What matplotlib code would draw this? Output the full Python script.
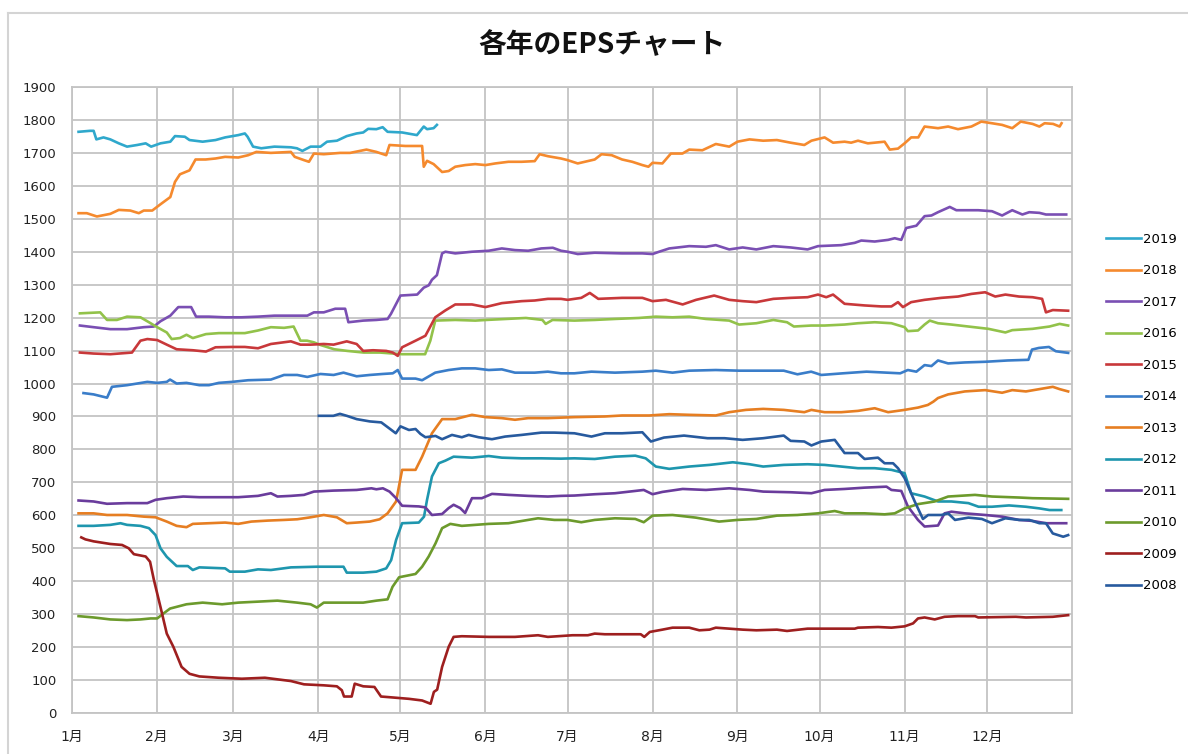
import matplotlib
matplotlib.use('Agg')
import matplotlib.pyplot as plt
from matplotlib.lines import Line2D

plt.rcParams['font.family'] = ['DejaVu Sans', 'Noto Sans CJK JP']

title = '各年のEPSチャート'
month_labels = ['1月', '2月', '3月', '4月', '5月', '6月', '7月', '8月', '9月', '10月', '11月', '12月']
month_start_day = [0, 31, 59, 90, 120, 151, 181, 212, 243, 273, 304, 334]
year_days = 365
y_ticks = list(range(0, 2000, 100))

years = ['2019', '2018', '2017', '2016', '2015', '2014', '2013', '2012', '2011', '2010', '2009', '2008']
colors = ['#2FA8CC', '#F58A2E', '#7A4FB3', '#92C24A', '#C8383A', '#3A7DC9',
          '#E67E22', '#1E96AE', '#6A3C9C', '#6C9A2C', '#9E1F1F', '#275A9E']

# (day of year, EPS)
eps_2019 = [(2.5, 1764), (6.7, 1767), (8, 1767), (9, 1741), (11.6, 1747), (14.1, 1741), (17.2, 1729),
            (20.2, 1719), (23.9, 1724), (27, 1729), (29, 1719), (32.4, 1729), (36, 1734), (37.7, 1751),
            (41.3, 1749), (43, 1739), (47.8, 1734), (52.5, 1739), (56, 1747), (60.8, 1754), (63.2, 1759),
            (64.2, 1749), (66.2, 1719), (69.2, 1714), (74, 1719), (80, 1717), (82.2, 1714), (84.2, 1706),
            (87.2, 1719), (90.8, 1719), (93.2, 1734), (96.8, 1737), (100.4, 1751), (104, 1759),
            (106.4, 1762), (108.2, 1773), (111.2, 1772), (113.5, 1778), (115.3, 1764), (120.6, 1762),
            (126, 1754), (128.5, 1780), (129.7, 1772), (132.1, 1775), (133.3, 1785)]

eps_2018 = [(2.5, 1517), (5.5, 1517), (9.2, 1507), (14.1, 1515), (17.2, 1527), (21.4, 1525), (24.5, 1517),
            (26.3, 1525), (29.4, 1525), (32.4, 1544), (36, 1566), (37.7, 1612), (39.5, 1635), (43, 1647),
            (45.2, 1680), (48.9, 1680), (52.5, 1683), (56, 1688), (60.8, 1686), (64.4, 1693), (67.4, 1703),
            (72.7, 1700), (80, 1703), (81.4, 1688), (84.8, 1678), (86.6, 1673), (88.4, 1698), (92, 1696),
            (98, 1700), (101.6, 1700), (107.6, 1710), (111.2, 1703), (114.8, 1693), (116, 1724),
            (121.8, 1721), (127.9, 1721), (128.5, 1658), (129.7, 1676), (132.1, 1666), (135.2, 1642),
            (137.6, 1645), (140, 1658), (143.6, 1663), (147.3, 1666), (151, 1663), (154.6, 1668),
            (159.4, 1673), (164.2, 1673), (169, 1675), (170.8, 1696), (173.8, 1690), (178.6, 1683),
            (181, 1678), (184.7, 1668), (190.9, 1680), (193.4, 1696), (197.1, 1693), (200.9, 1680),
            (204.6, 1673), (208.3, 1663), (210.5, 1658), (212, 1670), (215.6, 1668), (218.7, 1698),
            (222.9, 1698), (225.4, 1710), (230.2, 1708), (235.1, 1727), (240, 1719), (243, 1734),
            (247.4, 1741), (252.4, 1737), (257.4, 1739), (262.4, 1731), (267.4, 1724), (270, 1737),
            (274.8, 1747), (277.9, 1731), (282.1, 1734), (284.5, 1731), (287, 1737), (290.6, 1729),
            (296.7, 1734), (298.6, 1710), (301.6, 1713), (304, 1729), (306.4, 1747), (309, 1747),
            (311.3, 1780), (316.2, 1775), (319.9, 1780), (323.5, 1772), (328.4, 1780), (332, 1795),
            (335.9, 1790), (339.6, 1785), (343.3, 1775), (346.4, 1795), (350.7, 1788), (353.2, 1780),
            (355.1, 1790), (358.2, 1788), (360.6, 1780), (361.3, 1790)]

eps_2017 = [(3, 1176), (8, 1171), (14.1, 1165), (20.2, 1165), (26.3, 1171), (30, 1173), (32.4, 1189),
            (36, 1206), (38.9, 1232), (43.6, 1232), (45.4, 1203), (50.1, 1203), (56, 1201), (62, 1201),
            (68, 1203), (74, 1206), (80, 1206), (86, 1206), (88.4, 1216), (92, 1216), (96.2, 1227),
            (99.8, 1227), (101, 1186), (106.4, 1191), (111.2, 1193), (115.3, 1196), (116.5, 1211),
            (120, 1267), (126.1, 1270), (128.5, 1291), (130.3, 1298), (131.5, 1315), (133.3, 1329),
            (135.2, 1395), (136.4, 1400), (140, 1395), (146.1, 1400), (152.2, 1403), (157, 1410),
            (161.8, 1405), (166.6, 1403), (171.4, 1410), (175.6, 1412), (178.6, 1403), (181, 1400),
            (184.7, 1393), (190.9, 1397), (200.9, 1395), (208.3, 1395), (212, 1393), (214.4, 1400),
            (218.1, 1410), (225.4, 1417), (231.5, 1415), (235.1, 1420), (240, 1407), (244.9, 1413),
            (249.9, 1407), (256.1, 1417), (262.4, 1413), (268.6, 1407), (272.4, 1417), (280.9, 1420),
            (285.8, 1427), (288.2, 1434), (293.1, 1431), (298, 1436), (300.4, 1441), (302.8, 1436),
            (304.6, 1472), (308.3, 1479), (311.3, 1508), (313.8, 1510), (316.2, 1520), (320.5, 1536),
            (322.9, 1526), (330.9, 1526), (335.9, 1523), (339.6, 1510), (343.3, 1526), (347, 1513),
            (349.5, 1520), (353.2, 1518), (355.6, 1513), (363, 1513)]

eps_2016 = [(3, 1213), (10.4, 1216), (12.9, 1193), (16.5, 1193), (20.2, 1203), (25.1, 1201), (28.2, 1186),
            (31.2, 1171), (34.7, 1155), (36.5, 1135), (39.5, 1138), (41.9, 1148), (44.2, 1138), (49, 1150),
            (53.7, 1153), (58.5, 1153), (63.2, 1153), (68, 1161), (72.7, 1171), (77.5, 1169), (81, 1173),
            (83.5, 1130), (85.9, 1130), (88.4, 1125), (90.8, 1117), (95.8, 1104), (100.6, 1099),
            (106.6, 1094), (112.5, 1094), (120.6, 1089), (129, 1089), (130.9, 1130), (132.7, 1191),
            (140, 1193), (147.3, 1191), (151.4, 1193), (158.6, 1196), (165.8, 1199), (171.8, 1193),
            (173, 1181), (175.5, 1193), (183.5, 1191), (190.9, 1193), (198.3, 1196), (207, 1199),
            (213.2, 1203), (219.3, 1201), (225.4, 1203), (231.5, 1196), (240, 1191), (243.6, 1179),
            (249.9, 1183), (256.1, 1193), (261.1, 1186), (263.6, 1173), (269.9, 1176), (274.8, 1176),
            (282.1, 1179), (287, 1183), (293.1, 1186), (299.2, 1183), (304, 1171), (305.2, 1159),
            (308.9, 1161), (311.3, 1179), (313.2, 1191), (316.2, 1183), (321.1, 1179), (327.3, 1173),
            (334.6, 1166), (340.8, 1155), (343.3, 1162), (350.7, 1166), (356.9, 1173), (360.6, 1181),
            (363.7, 1176)]

eps_2015 = [(3, 1094), (8, 1091), (14.1, 1089), (22, 1094), (25.1, 1130), (27.6, 1135), (31.2, 1132),
            (34.7, 1118), (38.3, 1104), (44.2, 1101), (49, 1097), (52.5, 1110), (58.5, 1111), (63.2, 1111),
            (68, 1107), (72.7, 1120), (80, 1128), (83.5, 1118), (87.2, 1118), (92, 1120), (95.6, 1118),
            (100.4, 1128), (104, 1120), (106.4, 1099), (110, 1101), (114.8, 1099), (117.2, 1094),
            (119, 1084), (120.6, 1110), (125.5, 1130), (129.1, 1145), (132.7, 1201), (136.4, 1222),
            (140, 1240), (146.1, 1240), (151, 1232), (157, 1244), (164.2, 1250), (169, 1252), (173.8, 1257),
            (178.6, 1257), (181, 1254), (186, 1260), (189.1, 1275), (192.2, 1257), (200.9, 1260),
            (208.3, 1260), (212, 1250), (216.9, 1254), (223, 1240), (227.9, 1254), (234.5, 1267),
            (240, 1254), (244.9, 1250), (249.9, 1247), (256.1, 1257), (262.4, 1260), (268.6, 1262),
            (272.4, 1270), (275.4, 1262), (277.9, 1270), (282.1, 1242), (289.4, 1237), (295.5, 1234),
            (299.2, 1234), (301.6, 1247), (303.4, 1232), (306.4, 1247), (311.3, 1254), (317.4, 1260),
            (323.5, 1264), (328.4, 1272), (333.4, 1277), (337.1, 1264), (340.8, 1270), (345.8, 1264),
            (350.7, 1262), (354.2, 1257), (355.6, 1216), (358.1, 1223), (363.7, 1221)]

eps_2014 = [(4.3, 971), (8, 967), (12.9, 957), (14.7, 990), (20.2, 995), (27.6, 1005), (31.2, 1002),
            (34.7, 1005), (35.9, 1012), (38.3, 1000), (41.9, 1002), (46.6, 995), (50.1, 995), (53.7, 1002),
            (58.5, 1005), (64.4, 1010), (72.7, 1012), (77.5, 1026), (82.3, 1026), (86, 1020), (90.8, 1029),
            (95.6, 1026), (99.2, 1033), (104, 1022), (108.8, 1026), (113.5, 1029), (117.2, 1031),
            (119, 1041), (120.6, 1015), (125.5, 1015), (127.9, 1010), (132.7, 1033), (137.6, 1041),
            (142.4, 1046), (147.3, 1046), (152.2, 1041), (157, 1043), (161.8, 1033), (169, 1033),
            (173.8, 1036), (178.6, 1031), (183.5, 1031), (189.7, 1036), (198.3, 1033), (208.3, 1036),
            (213.2, 1039), (219.3, 1033), (225.4, 1039), (235.1, 1041), (243.6, 1039), (252.4, 1039),
            (259.9, 1039), (264.9, 1028), (269.9, 1036), (273.6, 1026), (281.5, 1031), (290.1, 1036),
            (297.5, 1033), (302.4, 1031), (305.2, 1041), (308.3, 1036), (311.3, 1056), (313.8, 1053),
            (316.2, 1070), (319.9, 1061), (326, 1064), (333.4, 1066), (341.7, 1070), (349.2, 1072),
            (350.5, 1103), (353, 1108), (356.7, 1111), (359.2, 1098), (363.7, 1093)]

eps_2013 = [(2.5, 606), (8, 606), (12.9, 601), (20.2, 601), (26.3, 596), (30.6, 594), (34.7, 581),
            (38.3, 568), (41.9, 564), (44.2, 574), (50.1, 576), (56, 578), (60.8, 574), (65.6, 581),
            (71.6, 584), (77.5, 586), (82.3, 588), (87.2, 594), (92, 601), (96.8, 594), (100.4, 576),
            (104, 578), (108.8, 581), (112.4, 588), (115.3, 606), (118.4, 642), (120.6, 738), (125.5, 738),
            (127.9, 778), (131.5, 849), (135.2, 892), (140, 892), (146.1, 905), (151, 898), (157, 895),
            (161.8, 890), (166.6, 895), (173.8, 895), (183.5, 898), (194.6, 900), (200.9, 903),
            (210.8, 903), (218.1, 907), (225.4, 905), (235.1, 903), (240, 913), (246.1, 920), (252.4, 923),
            (259.9, 920), (267.4, 913), (270, 920), (274.8, 913), (280.9, 913), (287, 917), (293.1, 925),
            (298, 913), (304, 920), (308.9, 927), (312.5, 935), (314.5, 945), (316.2, 956), (319.9, 967),
            (326, 976), (333.4, 980), (339.6, 972), (343.3, 980), (348.3, 976), (353.2, 983),
            (358.1, 990), (360.6, 983), (363.7, 976)]

eps_2012 = [(2.5, 568), (8, 568), (14.1, 571), (17.8, 576), (20.2, 571), (25.1, 568), (28.2, 561),
            (30.6, 540), (32.4, 500), (34.7, 474), (38.3, 446), (42.4, 446), (44.2, 434), (46.6, 442),
            (56, 439), (57.7, 429), (63.2, 429), (68, 436), (72.7, 434), (80, 442), (89.5, 444),
            (99.2, 444), (100.4, 426), (106.4, 426), (111.2, 429), (114.8, 439), (116.6, 464),
            (118.4, 525), (120.6, 576), (126.7, 578), (128.6, 596), (129.7, 647), (131.5, 718),
            (134, 758), (136.4, 766), (139.4, 778), (146.1, 775), (152.2, 780), (157, 775), (164.2, 773),
            (171.4, 773), (178.6, 772), (183.5, 773), (190.9, 771), (198.3, 778), (205.7, 781),
            (209.5, 773), (213.2, 748), (218.1, 741), (225.4, 748), (232.8, 753), (241.3, 761),
            (247.4, 755), (252.4, 748), (259.9, 753), (268.6, 755), (274.8, 753), (280.9, 748),
            (287, 743), (293.1, 743), (299.2, 738), (304, 728), (306.4, 667), (311.3, 657), (316.2, 642),
            (321.1, 642), (327.3, 637), (331, 626), (335.9, 626), (342.1, 630), (348.3, 626),
            (353.2, 621), (356.9, 616), (361.2, 616)]

eps_2011 = [(2.5, 645), (8, 642), (12.9, 635), (20.2, 637), (27.6, 637), (30.6, 647), (34.7, 652),
            (40.7, 657), (46.6, 655), (53.7, 655), (60.8, 655), (68, 659), (72.7, 667), (75.1, 657),
            (80, 659), (84.8, 662), (88.4, 672), (95.5, 675), (104, 677), (109.4, 682), (111.2, 679),
            (113.6, 682), (116, 672), (118.4, 652), (120.6, 629), (126.7, 627), (129.1, 624), (131.5, 601),
            (135.2, 604), (137.6, 622), (139.4, 632), (141.8, 622), (143.6, 607), (146.1, 652),
            (149.7, 652), (153.4, 665), (159.4, 662), (166.6, 659), (173.8, 657), (178.6, 659),
            (183.5, 660), (190.9, 664), (198.3, 667), (205.7, 674), (208.8, 677), (212, 664), (215.6, 671),
            (223, 680), (231.5, 677), (240, 682), (247.4, 677), (252.4, 672), (262.4, 670), (270, 667),
            (274.8, 677), (282.1, 680), (289.4, 684), (297.4, 687), (299.2, 677), (302.8, 674),
            (305.2, 627), (308.9, 586), (311.3, 566), (316.2, 569), (318.6, 606), (321.1, 611),
            (326, 606), (333.4, 601), (339.6, 596), (345.8, 586), (350.7, 583), (355.6, 576), (363, 576)]

eps_2010 = [(2.5, 294), (8, 290), (14.1, 284), (20.2, 282), (25.1, 284), (28.8, 287), (31.2, 287),
            (33.5, 302), (35.9, 317), (41.9, 330), (47.8, 335), (54.9, 330), (60.8, 335), (68, 338),
            (75.1, 341), (82.3, 335), (87.2, 330), (89.5, 320), (92, 335), (99.2, 335), (106.4, 335),
            (111.2, 341), (115.3, 345), (117.1, 383), (119.5, 412), (125.5, 422), (127.9, 444),
            (130.3, 475), (132.8, 515), (135.2, 561), (138.2, 574), (142.4, 568), (147.3, 571),
            (152.2, 574), (159.4, 576), (166.6, 586), (170.2, 591), (176.2, 586), (181, 586), (186, 579),
            (190.9, 586), (198.3, 591), (205.7, 589), (208.8, 579), (212, 599), (219.3, 601), (227.8, 593),
            (236.3, 581), (243, 586), (249.9, 589), (257.4, 599), (264.9, 601), (272.4, 606), (278.5, 613),
            (282.1, 606), (289.4, 606), (296.7, 603), (300.4, 606), (304, 621), (308.9, 634), (315, 642),
            (319.9, 657), (329.7, 662), (335.9, 657), (345.8, 654), (350.7, 652), (363.7, 650)]

eps_2009 = [(3.5, 533), (5, 527), (8, 521), (14.1, 513), (18.4, 510), (20.8, 500), (22.7, 482),
            (27, 475), (28.6, 459), (30, 404), (32.4, 322), (34.7, 241), (37.1, 201), (40.1, 140),
            (43, 119), (46.6, 111), (53.7, 107), (62.1, 104), (70.5, 107), (80, 97), (84.8, 87), (92, 84),
            (96.8, 81), (98.6, 69), (99.4, 50), (102.2, 50), (103.3, 89), (106.4, 81), (110.5, 79),
            (112.9, 50), (115.9, 48), (123.1, 43), (127.9, 38), (131, 28), (132.2, 64), (133.4, 71),
            (135.2, 140), (137.6, 201), (139.4, 231), (142.4, 233), (152.2, 231), (161.8, 231),
            (170.2, 236), (173.8, 231), (182.8, 236), (188.4, 236), (190.9, 241), (194.6, 239),
            (207.7, 239), (209, 231), (211, 246), (215.6, 253), (219.3, 259), (225.4, 259), (229.1, 251),
            (232.8, 253), (235.1, 259), (240, 256), (244.9, 253), (249.9, 251), (257.4, 253),
            (261.1, 249), (268.6, 256), (274.8, 256), (285.8, 256), (287, 259), (294.3, 261),
            (299.2, 259), (304, 263), (307.1, 272), (308.9, 287), (311.3, 290), (315, 284), (318.6, 292),
            (323.5, 294), (329.7, 294), (330.9, 290), (344.6, 292), (348.3, 290), (358.1, 292),
            (363.7, 297)]

eps_2008 = [(90.2, 902), (95.5, 902), (97.9, 908), (100.4, 902), (104, 892), (108.8, 885), (113, 882),
            (115.9, 864), (118.3, 849), (120, 870), (123.1, 859), (125.5, 862), (127.3, 847), (129.1, 837),
            (132.8, 841), (135.2, 831), (138.8, 844), (142.4, 837), (144.9, 844), (148.5, 837),
            (153.4, 831), (158.2, 839), (164.2, 844), (171.4, 851), (176.2, 851), (183.5, 849),
            (189.7, 839), (194.6, 849), (200.9, 849), (208.3, 852), (211.4, 824), (216.2, 836),
            (223.5, 842), (232.1, 834), (238.3, 834), (244.9, 829), (252.4, 834), (259.9, 842),
            (262.4, 826), (267.4, 824), (270, 812), (273.6, 824), (278.5, 829), (282.1, 789), (287, 789),
            (289.4, 771), (294.3, 775), (296.7, 758), (299.8, 758), (301.6, 743), (304, 713), (307.7, 642),
            (310.7, 589), (312.6, 601), (317.4, 601), (319.9, 606), (322.4, 586), (327.3, 593),
            (332.2, 589), (335.9, 576), (340.8, 591), (345.8, 586), (349.5, 586), (353.2, 576),
            (355.6, 576), (358.1, 545), (361.9, 535), (363.7, 540)]

series = [eps_2019, eps_2018, eps_2017, eps_2016, eps_2015, eps_2014,
          eps_2013, eps_2012, eps_2011, eps_2010, eps_2009, eps_2008]

W, H = 1188, 754
fig = plt.figure(figsize=(W / 100, H / 100), dpi=100)
fig.patch.set_facecolor('white')

# outer chart frame (left and top edges visible)
frame_c = '#D4D4D4'
fig.add_artist(Line2D([8 / W, 8 / W], [0, 1 - 13 / H], color=frame_c, lw=1.5, transform=fig.transFigure))
fig.add_artist(Line2D([8 / W, 1], [1 - 13 / H, 1 - 13 / H], color=frame_c, lw=1.5, transform=fig.transFigure))

left, right, top, bottom = 71.7, 1071.7, 87, 713
ax = fig.add_axes([left / W, 1 - bottom / H, (right - left) / W, (bottom - top) / H])

for yr, col, data in zip(years, colors, series):
    xs = [p[0] for p in data]
    ys = [p[1] for p in data]
    ax.plot(xs, ys, color=col, lw=1.9, label=yr, solid_joinstyle='round')

ax.set_xlim(0, year_days)
ax.set_ylim(0, 1900)
ax.set_yticks(y_ticks)
ax.set_yticklabels([str(v) for v in y_ticks], fontsize=9.5, color='#222222')
ax.set_xticks(month_start_day)
ax.set_xticklabels(month_labels, fontsize=10, color='#222222')
ax.tick_params(axis='both', length=0)
ax.tick_params(axis='y', pad=11)
ax.tick_params(axis='x', pad=12)
ax.grid(True, color='#C4C4C4', lw=1.3)
ax.set_axisbelow(True)
for s in ax.spines.values():
    s.set_color('#C4C4C4')
    s.set_linewidth(1.3)

fig.text(602 / W, 1 - 45 / H, title, ha='center', va='center', fontsize=20, fontweight='bold',
         family=['Noto Sans CJK JP', 'DejaVu Sans'], color='#111111')

handles, labels = ax.get_legend_handles_labels()
fig.legend(handles, labels, loc='upper left', bbox_to_anchor=(1106 / W, 1 - 233 / H),
           frameon=False, fontsize=9.5, handlelength=2.65, handletextpad=0.15,
           labelspacing=1.4, borderpad=0, borderaxespad=0)

fig.savefig('out.png', dpi=100, facecolor='white')
